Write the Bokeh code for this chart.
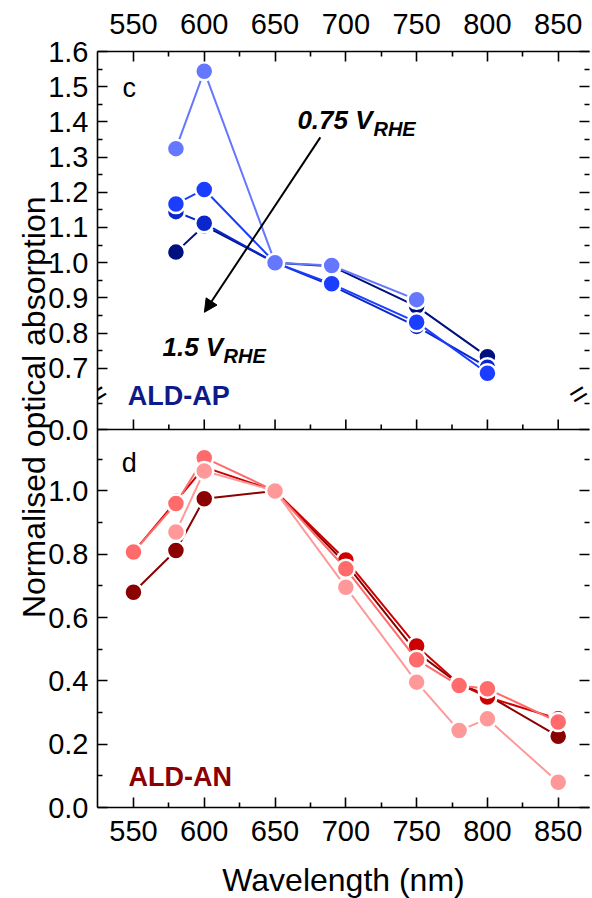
import math
from bokeh.plotting import figure
from bokeh.models import Range1d, LinearAxis, FixedTicker, Label, Arrow, NormalHead, Span
from bokeh.embed import file_html
from bokeh.resources import INLINE

# ---------------- data ----------------
# top panel (ALD-AP)
wl_ap = [580, 600, 650, 690, 750, 800]
ap_150 = [1.03, 1.105, 1.0, 0.99, 0.876, 0.733]      # 1.5 V_RHE (navy)
ap_mid1 = [1.145, 1.112, 1.0, 0.935, 0.819, 0.703]   # intermediate
ap_mid2 = [1.167, 1.208, 1.0, 0.94, 0.831, 0.686]    # intermediate
wl_ap_075 = [580, 600, 650, 690, 750]
ap_075 = [1.324, 1.544, 1.0, 0.992, 0.895]           # 0.75 V_RHE (light)

# bottom panel (ALD-AN)
wl_an = [550, 580, 600, 650, 700, 750, 780, 800, 850]
an_dark = [0.68, 0.812, 0.975, 1.0, 0.77, 0.49, 0.39, 0.355, 0.225]
an_red = [0.807, 0.967, 1.075, 1.0, 0.782, 0.51, 0.39, 0.349, 0.28]
an_salmon = [0.807, 0.96, 1.105, 1.0, 0.754, 0.467, 0.385, 0.375, 0.27]
wl_an_pink = [580, 600, 650, 700, 750, 780, 800, 850]
an_pink = [0.87, 1.063, 1.0, 0.696, 0.396, 0.243, 0.28, 0.08]

# ticks
x_major = [550, 600, 650, 700, 750, 800, 850]
x_minor = [575, 625, 675, 725, 775, 825]
top_major = [0.7, 0.8, 0.9, 1.0, 1.1, 1.2, 1.3, 1.4, 1.5, 1.6]
top_major_labels = ["0.7", "0.8", "0.9", "1.0", "1.1", "1.2", "1.3", "1.4", "1.5", "1.6"]
top_minor = [0.6, 0.75, 0.85, 0.95, 1.05, 1.15, 1.25, 1.35, 1.45, 1.55]
bot_major = [0.0, 0.2, 0.4, 0.6, 0.8, 1.0]
bot_major_labels = ["0.0", "0.2", "0.4", "0.6", "0.8", "1.0"]
bot_minor = [0.1, 0.3, 0.5, 0.7, 0.9, 1.1]

# ---------------- layout constants ----------------
X0, X1 = 524.6, 872.1
BOT_MAX = 1.194          # top of lower panel
TOP_MIN, TOP_MAX = 0.526, 1.6   # visible span of upper panel (broken axis)
FONT = "Liberation Sans"
NB = "\u00a0"


def top_to_def(v):
    return round(BOT_MAX + (v - TOP_MIN) / (TOP_MAX - TOP_MIN) * BOT_MAX, 6)


p = figure(frame_width=492, frame_height=756,
           x_range=Range1d(X0, X1), y_range=Range1d(0, 2 * BOT_MAX),
           x_axis_location=None, y_axis_location=None,
           output_backend="svg", toolbar_location=None,
           min_border_left=97, min_border_top=51, min_border_right=2, min_border_bottom=0)
p.extra_y_ranges = {"top": Range1d(TOP_MIN - (TOP_MAX - TOP_MIN), TOP_MAX)}
p.grid.grid_line_color = None
p.outline_line_color = None
p.background_fill_color = "white"
p.border_fill_color = "white"

# y ticks in default-range units
y_ticks = [round(v, 6) for v in bot_major] + [top_to_def(TOP_MIN)] + [top_to_def(v) for v in top_major]
y_minor = [round(v, 6) for v in bot_minor] + [top_to_def(v) for v in top_minor]
overrides = {}
for v, s in zip(bot_major, bot_major_labels):
    overrides[round(v, 6)] = s
overrides[top_to_def(TOP_MIN)] = "0.0"
for v, s in zip(top_major, top_major_labels):
    overrides[top_to_def(v)] = s


def style_axis(ax):
    ax.axis_line_width = 1.6
    ax.major_tick_line_width = 1.6
    ax.minor_tick_line_width = 1.6
    ax.major_tick_in = 10
    ax.major_tick_out = 0
    ax.minor_tick_in = 5
    ax.minor_tick_out = 0
    ax.major_label_text_font = FONT
    ax.major_label_text_font_size = "29px"
    ax.major_label_text_color = "black"
    ax.axis_label_text_font = FONT
    ax.axis_label_text_font_style = "normal"
    ax.axis_label_text_font_size = "32px"
    ax.axis_label_text_color = "black"


left = LinearAxis(ticker=FixedTicker(ticks=y_ticks, minor_ticks=y_minor),
                  major_label_overrides=overrides,
                  axis_label=NB * 5 + "Normalised optical absorption")
style_axis(left)
left.major_label_standoff = 9
left.axis_label_standoff = -7
p.add_layout(left, "left")

right = LinearAxis(ticker=FixedTicker(ticks=y_ticks, minor_ticks=y_minor),
                   major_label_overrides={t: "" for t in y_ticks})
style_axis(right)
right.axis_line_color = None
right.major_label_standoff = 0
p.add_layout(right, "right")

above = LinearAxis(ticker=FixedTicker(ticks=x_major, minor_ticks=x_minor))
style_axis(above)
above.major_label_standoff = 18
p.add_layout(above, "above")

below = LinearAxis(ticker=FixedTicker(ticks=x_major, minor_ticks=x_minor),
                   axis_label="Wavelength (nm)")
style_axis(below)
below.major_label_standoff = 13
below.axis_label_standoff = 18
p.add_layout(below, "below")

# middle separator with upward ticks (bottom axis of upper panel)
p.add_layout(Span(location=BOT_MAX, dimension="width", line_color="black", line_width=1.6))
px_per_unit_top = 378 / (TOP_MAX - TOP_MIN)
p.segment(x0=x_major, y0=[TOP_MIN] * len(x_major), x1=x_major,
          y1=[TOP_MIN + 10 / px_per_unit_top] * len(x_major),
          line_color="black", line_width=1.6, y_range_name="top")
p.segment(x0=x_minor, y0=[TOP_MIN] * len(x_minor), x1=x_minor,
          y1=[TOP_MIN + 5 / px_per_unit_top] * len(x_minor),
          line_color="black", line_width=1.6, y_range_name="top")


def series(x, y, color, rng=None):
    kw = {"y_range_name": rng} if rng else {}
    p.line(x, y, line_color=color, line_width=2, **kw)
    p.scatter(x, y, size=18, fill_color=color, line_color="white", line_width=2.5, **kw)


# upper panel
series(wl_ap, ap_150, "#00107E", "top")
series(wl_ap, ap_mid1, "#0A26CC", "top")
series(wl_ap, ap_mid2, "#1A3DFF", "top")
series(wl_ap_075, ap_075, "#6677FF", "top")

# lower panel
series(wl_an, an_dark, "#8B0000")
series(wl_an, an_red, "#CC0000")
series(wl_an, an_salmon, "#FF6B6B")
series(wl_an_pink, an_pink, "#FF9999")

# axis break marks
for xb in (X0, X1 - 8):
    p.add_layout(Label(x=xb, y=top_to_def(0.628), text="=", angle=0.55,
                       text_align="center", text_baseline="middle",
                       text_font=FONT, text_font_size="30px", text_color="black"))

# arrow
p.add_layout(Arrow(end=NormalHead(size=13, fill_color="black", line_color="black"),
                   x_start=682, y_start=1.356, x_end=600.1, y_end=0.859,
                   line_width=2, line_color="black", y_range_name="top"))


def lab(x, y, text, size, style="normal", color="black", align="center",
        baseline="middle", rng=None):
    kw = {"y_range_name": rng} if rng else {}
    p.add_layout(Label(x=x, y=y, text=text, text_font=FONT, text_font_size=size,
                       text_font_style=style, text_color=color, text_align=align,
                       text_baseline=baseline, **kw))


lab(547, 1.495, "c", "27px", rng="top")
lab(582, 0.62, "ALD-AP", "27px", style="bold", color="#0D1A8A", rng="top")
lab(665.8, 1.404, "0.75 V", "26px", style="bold italic", align="left",
    baseline="alphabetic", rng="top")
lab(719.5, 1.381, "RHE", "20px", style="bold italic", align="left",
    baseline="alphabetic", rng="top")
lab(570.5, 0.76, "1.5 V", "26px", style="bold italic", align="left",
    baseline="alphabetic", rng="top")
lab(613.6, 0.736, "RHE", "20px", style="bold italic", align="left",
    baseline="alphabetic", rng="top")

lab(547, 1.087, "d", "27px")
lab(583, 0.095, "ALD-AN", "27px", style="bold", color="#8B0000")

open("out.html", "w").write(file_html(p, INLINE))
